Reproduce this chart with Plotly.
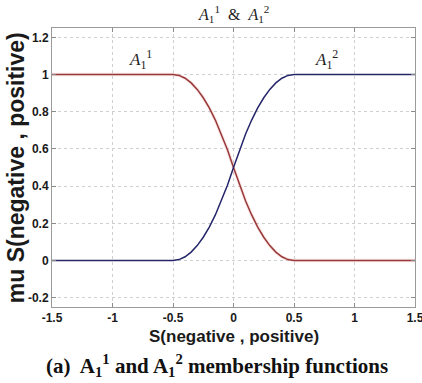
import plotly.graph_objects as go

# Data
s_vals = [-1.5, -0.5, -0.45, -0.4, -0.35, -0.3, -0.25, -0.2, -0.15, -0.1, -0.05, 0.0,
          0.05, 0.1, 0.15, 0.2, 0.25, 0.3, 0.35, 0.4, 0.45, 0.5, 1.5]
mu_A11 = [1.0, 1.0, 0.995, 0.98, 0.955, 0.92, 0.875, 0.82, 0.755, 0.68, 0.595, 0.5,
          0.405, 0.32, 0.245, 0.18, 0.125, 0.08, 0.045, 0.02, 0.005, 0.0, 0.0]
mu_A12 = [0.0, 0.0, 0.005, 0.02, 0.045, 0.08, 0.125, 0.18, 0.245, 0.32, 0.405, 0.5,
          0.595, 0.68, 0.755, 0.82, 0.875, 0.92, 0.955, 0.98, 0.995, 1.0, 1.0]
x_ticks = [-1.5, -1, -0.5, 0, 0.5, 1, 1.5]
x_tick_labels = ["-1.5", "-1", "-0.5", "0", "0.5", "1", "1.5"]
y_ticks = [-0.2, 0, 0.2, 0.4, 0.6, 0.8, 1.0, 1.2]
y_tick_labels = ["-0.2", "0", "0.2", "0.4", "0.6", "0.8", "1", "1.2"]

red = "#983838"
blue = "#25266a"

fig = go.Figure()
# soft halo under red curve
fig.add_trace(go.Scatter(x=s_vals, y=mu_A11, mode="lines",
                         line=dict(color="rgba(235,150,150,0.22)", width=3.5),
                         hoverinfo="skip", showlegend=False))
fig.add_trace(go.Scatter(x=s_vals, y=mu_A11, mode="lines",
                         line=dict(color=red, width=1.5),
                         showlegend=False, name="A11"))
fig.add_trace(go.Scatter(x=s_vals, y=mu_A12, mode="lines",
                         line=dict(color=blue, width=1.5),
                         showlegend=False, name="A12"))

axis_common = dict(
    showgrid=True, gridcolor="#cfcfcf", griddash="dot", gridwidth=1,
    showline=True, linecolor="#9a9a9a", linewidth=1, mirror="ticks",
    ticks="inside", ticklen=4, tickcolor="#8a8a8a",
    tickfont=dict(family="Liberation Sans, Arial", size=12, color="#1a1a1a"),
    zeroline=False, ticklabeloverflow="allow", automargin=False,
)

fig.update_layout(
    width=422, height=383,
    margin=dict(l=52, r=7, t=28, b=76),
    paper_bgcolor="white", plot_bgcolor="white",
    xaxis=dict(range=[-1.5, 1.5], tickvals=x_ticks,
               ticktext=["<b>%s</b>" % t for t in x_tick_labels], **axis_common),
    yaxis=dict(range=[-0.25, 1.25], tickvals=y_ticks,
               ticktext=["<b>%s</b>" % t for t in y_tick_labels], **axis_common),
    annotations=[
        dict(text="<b>S(negative , positive)</b>", xref="paper", yref="paper",
             x=0.5, y=-0.105, xanchor="center", yanchor="middle", showarrow=False,
             font=dict(family="Liberation Sans, Arial", size=17, color="#1a1a1a")),
        dict(text="<b>mu S(negative , positive)</b>", xref="paper", yref="paper",
             x=-0.1, y=0.5, xanchor="center", yanchor="middle", showarrow=False,
             textangle=-90,
             font=dict(family="Liberation Sans, Arial", size=23, color="#1a1a1a")),
        dict(text="<i>A</i><sub>1</sub><sup>1</sup>  &amp;  <i>A</i><sub>1</sub><sup>2</sup>",
             xref="paper", yref="paper", x=0.5, y=1.0, xanchor="center", yanchor="bottom",
             yshift=1, showarrow=False,
             font=dict(family="Liberation Serif, Times New Roman", size=16, color="#222")),
        dict(text="<i>A</i><sub>1</sub><sup>1</sup>", x=-0.77, y=1.08, xref="x", yref="y",
             showarrow=False,
             font=dict(family="Liberation Serif, Times New Roman", size=17, color="#222")),
        dict(text="<i>A</i><sub>1</sub><sup>2</sup>", x=0.77, y=1.08, xref="x", yref="y",
             showarrow=False,
             font=dict(family="Liberation Serif, Times New Roman", size=17, color="#222")),
        dict(text="<b>(a)  A<sub>1</sub><sup>1</sup> and A<sub>1</sub><sup>2</sup> membership functions</b>",
             xref="paper", yref="paper", x=0.455, y=-0.21, xanchor="center", yanchor="middle",
             showarrow=False,
             font=dict(family="Liberation Serif, Times New Roman", size=21, color="#111")),
    ],
)

fig.write_html("out.html")
